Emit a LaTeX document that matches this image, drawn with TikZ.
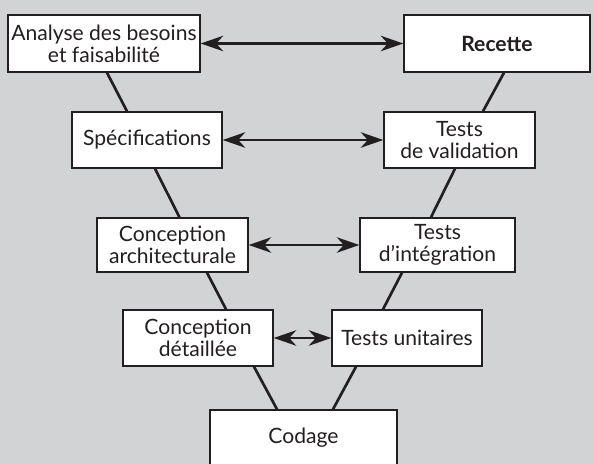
\documentclass[tikz,border=0pt]{standalone}
\usepackage{fontspec}
\setmainfont{Lato}
\usepackage{tikz}
\usetikzlibrary{arrows.meta, positioning, calc}
\usepackage{xcolor}
\definecolor{vgray}{HTML}{D1D3D4}
\definecolor{vink}{HTML}{231F20}

\begin{document}
\begin{tikzpicture}[
  x=0.025cm, y=-0.025cm,
  phase/.style={draw=vink, fill=white, line width=1pt, align=center,
    inner sep=0pt, minimum height=1.4cm, text=vink,
    font=\fontsize{15}{15.8}\selectfont},
  link/.style={draw=vink, line width=1.9pt},
  pair/.style={draw=vink, line width=1.7pt,
    {Stealth[length=16pt, width=11pt, inset=5pt]}-{Stealth[length=16pt, width=11pt, inset=5pt]}}
]
  % Background
  \fill[vgray] (0,0) rectangle (594,464);
  \useasboundingbox (0,0) rectangle (594,464);

  % Left branch
  \node[phase, minimum width=4.8cm, minimum height=1.425cm] (besoins) at (104,43.5)
    {Analyse des besoins\\et faisabilité};
  \node[phase, minimum width=3.75cm] (specs) at (147,140) {Spécifications};
  \node[phase, minimum width=3.775cm, minimum height=1.35cm] (archi) at (172.5,245)
    {Conception\\architecturale};
  \node[phase, minimum width=3.75cm] (detail) at (198,338) {Conception\\détaillée};

  % Right branch
  \node[phase, minimum width=4.65cm, minimum height=1.425cm] (recette) at (497,43.5)
    {\bfseries Recette};
  \node[phase, minimum width=3.775cm] (valid) at (459.5,140) {Tests\\de validation};
  \node[phase, minimum width=3.875cm, minimum height=1.35cm] (integ) at (437.5,245)
    {Tests\\d’intégration};
  \node[phase, minimum width=3.75cm] (unit) at (407,338) {Tests unitaires};

  % Bottom
  \node[phase, minimum width=4.675cm] (codage) at (303.5,438) {Codage};

  % V lines
  \foreach \a/\da/\b/\db in {besoins/3/specs/-20, specs/8/archi/7,
      archi/34.5/detail/28, detail/56/codage/-26.5,
      recette/7/valid/23.5, valid/-4.5/integ/-6.5,
      integ/-35.5/unit/-24, unit/-51/codage/29.5} {
    \draw[link] ($(\a.south)+(\da,0)$) -- ($(\b.north)+(\db,0)$);
  }

  % Verification links
  \foreach \a/\b in {besoins/recette, specs/valid, archi/integ, detail/unit} {
    \draw[pair] (\a) -- (\b);
  }
\end{tikzpicture}
\end{document}
